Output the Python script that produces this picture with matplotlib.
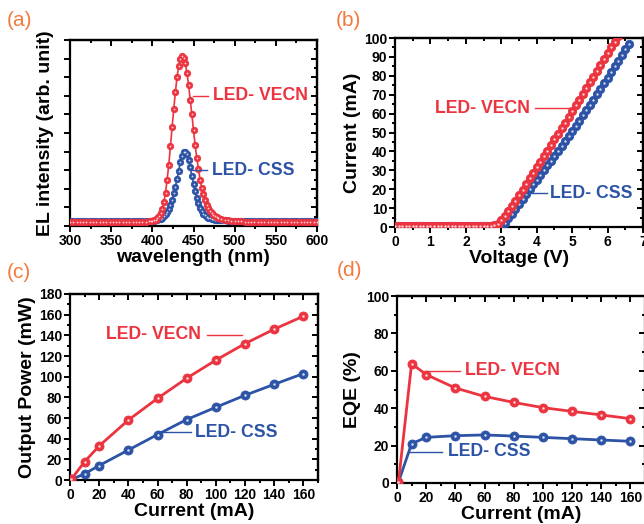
import matplotlib
matplotlib.use('Agg')
import matplotlib.pyplot as plt
from matplotlib.ticker import MultipleLocator, NullFormatter

plt.rcParams['font.family'] = ['Liberation Sans', 'DejaVu Sans']
plt.rcParams['font.weight'] = 'bold'

RED = '#ec3440'
BLUE = '#2c53a6'
ORANGE = '#f37a3c'

# ---------------- (a) EL spectra ----------------
wl = [300, 304, 308, 312, 316, 320, 324, 328, 332, 336, 340, 344, 348, 352, 356,
      360, 364, 368, 372, 376, 380, 384, 388, 392, 396,
      398, 400, 402, 404, 406, 408, 410, 412, 414, 416, 418, 420, 422, 424, 426,
      428, 430, 432, 434, 436, 438, 440, 442, 444, 446, 448, 450, 452, 454, 456,
      458, 460, 462, 464, 466, 468, 470, 472, 474, 476, 478, 480,
      484, 488, 492, 496, 500, 504, 508, 512, 516, 520, 524, 528, 532, 536, 540,
      544, 548, 552, 556, 560, 564, 568, 572, 576, 580, 584, 588, 592, 596, 600]
el_vecn = [0.022, 0.022, 0.021, 0.022, 0.022, 0.022, 0.021, 0.022, 0.022, 0.022,
           0.022, 0.021, 0.022, 0.022, 0.022, 0.022, 0.022, 0.021, 0.022, 0.022,
           0.022, 0.023, 0.023, 0.024, 0.025,
           0.026, 0.027, 0.030, 0.034, 0.041, 0.052, 0.068, 0.092, 0.128, 0.180,
           0.250, 0.330, 0.430, 0.530, 0.630, 0.720, 0.800, 0.860, 0.900, 0.915,
           0.905, 0.875, 0.825, 0.760, 0.680, 0.600, 0.515, 0.435, 0.365, 0.305,
           0.250, 0.205, 0.170, 0.140, 0.115, 0.096, 0.081, 0.069, 0.060, 0.053,
           0.048, 0.044,
           0.038, 0.034, 0.031, 0.029, 0.027, 0.026, 0.025, 0.024, 0.024, 0.023,
           0.023, 0.023, 0.022, 0.022, 0.022, 0.022, 0.022, 0.022, 0.022, 0.022,
           0.022, 0.022, 0.022, 0.022, 0.022, 0.022, 0.022, 0.022, 0.022, 0.022]
el_css = [0.027, 0.027, 0.028, 0.027, 0.027, 0.027, 0.028, 0.027, 0.027, 0.027,
          0.027, 0.028, 0.027, 0.027, 0.027, 0.027, 0.027, 0.028, 0.027, 0.027,
          0.027, 0.027, 0.028, 0.028, 0.028,
          0.028, 0.028, 0.029, 0.030, 0.032, 0.035, 0.039, 0.045, 0.053, 0.063,
          0.076, 0.093, 0.115, 0.142, 0.175, 0.212, 0.253, 0.297, 0.342, 0.378,
          0.398, 0.400, 0.385, 0.355, 0.315, 0.270, 0.226, 0.186, 0.151, 0.122,
          0.099, 0.081, 0.067, 0.057, 0.050, 0.045, 0.041, 0.038, 0.036, 0.034,
          0.033, 0.032,
          0.031, 0.030, 0.029, 0.029, 0.028, 0.028, 0.028, 0.028, 0.027, 0.027,
          0.027, 0.027, 0.027, 0.027, 0.027, 0.027, 0.027, 0.027, 0.027, 0.027,
          0.027, 0.027, 0.027, 0.027, 0.027, 0.027, 0.027, 0.027, 0.027, 0.027]

# ---------------- (b) I-V ----------------
volt_vecn = [0.0, 0.1, 0.2, 0.3, 0.4, 0.5, 0.6, 0.7, 0.8, 0.9, 1.0, 1.1, 1.2, 1.3,
             1.4, 1.5, 1.6, 1.7, 1.8, 1.9, 2.0, 2.1, 2.2, 2.3, 2.4, 2.5, 2.6, 2.7,
             2.8, 2.9, 3.0, 3.1, 3.2, 3.3, 3.4, 3.5, 3.6, 3.7, 3.8, 3.9, 4.0, 4.1,
             4.2, 4.3, 4.4, 4.5, 4.6, 4.7, 4.8, 4.9, 5.0, 5.1, 5.2, 5.3, 5.4, 5.5,
             5.6, 5.7, 5.8, 5.9, 6.0, 6.1, 6.2, 6.3]
cur_vecn = [0.3, 0.3, 0.3, 0.3, 0.3, 0.3, 0.3, 0.3, 0.3, 0.3, 0.3, 0.3, 0.3, 0.3,
            0.3, 0.3, 0.3, 0.3, 0.3, 0.3, 0.3, 0.3, 0.3, 0.3, 0.3, 0.3, 0.4, 0.5,
            0.8, 1.8, 3.8, 6.0, 8.5, 11.2, 14.0, 16.9, 19.8, 22.7, 25.7, 28.6, 31.6,
            34.5, 37.5, 40.4, 43.4, 46.3, 49.3, 52.2, 55.2, 58.2, 61.2, 64.3, 67.3,
            70.4, 73.4, 76.5, 79.6, 82.6, 85.7, 88.8, 91.9, 95.0, 98.1, 101.2]
volt_css = [0.0, 0.1, 0.2, 0.3, 0.4, 0.5, 0.6, 0.7, 0.8, 0.9, 1.0, 1.1, 1.2, 1.3,
            1.4, 1.5, 1.6, 1.7, 1.8, 1.9, 2.0, 2.1, 2.2, 2.3, 2.4, 2.5, 2.6, 2.7,
            2.8, 2.9, 3.0, 3.1, 3.2, 3.3, 3.4, 3.5, 3.6, 3.7, 3.8, 3.9, 4.0, 4.1,
            4.2, 4.3, 4.4, 4.5, 4.6, 4.7, 4.8, 4.9, 5.0, 5.1, 5.2, 5.3, 5.4, 5.5,
            5.6, 5.7, 5.8, 5.9, 6.0, 6.1, 6.2, 6.3, 6.4, 6.5, 6.6]
cur_css = [0.3, 0.3, 0.3, 0.3, 0.3, 0.3, 0.3, 0.3, 0.3, 0.3, 0.3, 0.3, 0.3, 0.3,
           0.3, 0.3, 0.3, 0.3, 0.3, 0.3, 0.3, 0.3, 0.3, 0.3, 0.3, 0.3, 0.3, 0.3,
           0.3, 0.4, 0.8, 2.2, 4.6, 7.0, 9.5, 12.0, 14.7, 17.3, 19.9, 22.5, 25.0,
           27.6, 30.1, 32.6, 35.1, 37.6, 40.1, 42.6, 45.3, 48.0, 50.7, 53.4, 56.2,
           59.0, 61.8, 64.6, 67.4, 70.3, 73.2, 76.1, 79.0, 82.0, 85.0, 88.0, 91.0,
           94.0, 97.0]

# ---------------- (c) output power / (d) EQE ----------------
drive_current = [1, 10, 20, 40, 60, 80, 100, 120, 140, 160]
power_vecn = [1, 17.7, 33, 58, 79, 98.5, 116, 132, 146, 158.5]
power_css = [0.5, 6, 14, 29, 44, 58.5, 70.4, 82, 92.6, 103]
eqe_vecn = [0.5, 63.8, 58, 50.8, 46.3, 43.1, 40.3, 38.3, 36.4, 34.4]
eqe_css = [0.5, 21, 24.4, 25.3, 25.7, 25.1, 24.4, 23.7, 23.0, 22.3]

fig = plt.figure(figsize=(6.44, 5.24), dpi=100)
W, H = 644.0, 524.0


def make_ax(l, r, t, b):
    return fig.add_axes([l / W, 1 - b / H, (r - l) / W, (b - t) / H])


def style(ax, xmaj, xmin, ymaj, ymin, ylabels=True):
    for s in ax.spines.values():
        s.set_linewidth(1.6)
    ax.xaxis.set_major_locator(MultipleLocator(xmaj))
    ax.xaxis.set_minor_locator(MultipleLocator(xmin))
    ax.yaxis.set_major_locator(MultipleLocator(ymaj))
    ax.yaxis.set_minor_locator(MultipleLocator(ymin))
    ax.tick_params(which='both', direction='out', top=False, right=False,
                   width=1.4, labelsize=10, pad=1.5)
    ax.tick_params(which='major', length=4)
    ax.tick_params(which='minor', length=2.5)
    if not ylabels:
        ax.yaxis.set_major_formatter(NullFormatter())
    sx = ax.secondary_xaxis('top')
    sx.xaxis.set_major_locator(MultipleLocator(xmaj))
    sx.xaxis.set_minor_locator(MultipleLocator(xmin))
    sx.tick_params(which='both', direction='in', labeltop=False, width=1.4)
    sx.tick_params(which='major', length=4)
    sx.tick_params(which='minor', length=2.5)
    sx.spines['top'].set_linewidth(1.6)
    sy = ax.secondary_yaxis('right')
    sy.yaxis.set_major_locator(MultipleLocator(ymaj))
    sy.yaxis.set_minor_locator(MultipleLocator(ymin))
    sy.tick_params(which='both', direction='in', labelright=False, width=1.4)
    sy.tick_params(which='major', length=4)
    sy.tick_params(which='minor', length=2.5)
    sy.spines['right'].set_linewidth(1.6)


def balls(ax, x, y, color, ms, lw, z):
    ax.plot(x, y, '-', color=color, lw=lw, marker='o', ms=ms, mfc=color,
            mec=color, mew=0.6, zorder=z)
    ax.plot(x, y, 'o', ms=ms * 0.28, mfc='white', mec='none', alpha=0.8,
            zorder=z + 0.1)


def label(ax, tx, ty, x1, x2, ly, text, color):
    ax.plot([x1, x2], [ly, ly], color=color, lw=1.0, zorder=5)
    ax.text(tx, ty, text, color=color, fontsize=12.7, fontweight='bold',
            va='center', ha='left', zorder=6)


LBL = 14

# (a)
axa = make_ax(70, 317, 40, 226)
balls(axa, wl, el_css, BLUE, 4.6, 1.2, 3)
balls(axa, wl, el_vecn, RED, 4.6, 1.2, 4)
axa.set_xlim(300, 600)
axa.set_ylim(0, 1)
style(axa, 50, 25, 0.1, 0.05, ylabels=False)
axa.tick_params(axis='y', which='minor', length=0)
axa.set_xlabel('wavelength (nm)', fontsize=LBL, fontweight='bold', labelpad=1)
axa.set_ylabel('EL intensity (arb. unit)', fontsize=LBL, fontweight='bold', labelpad=6)
label(axa, 473.7, 0.70, 449, 468, 0.70, 'LED- VECN', RED)
label(axa, 473, 0.30, 448, 467, 0.30, 'LED- CSS', BLUE)

# (b)
axb = make_ax(395, 643, 38, 227)
balls(axb, volt_css, cur_css, BLUE, 6.0, 1.0, 3)
balls(axb, volt_vecn, cur_vecn, RED, 6.0, 1.0, 4)
axb.set_xlim(0, 7)
axb.set_ylim(0, 100)
style(axb, 1, 0.5, 10, 5)
axb.set_xlabel('Voltage (V)', fontsize=LBL, fontweight='bold', labelpad=1)
axb.set_ylabel('Current (mA)', fontsize=LBL, fontweight='bold', labelpad=2)
label(axb, 1.13, 62.7, 3.95, 5.03, 62.7, 'LED- VECN', RED)
label(axb, 4.37, 17.8, 3.71, 4.28, 17.8, 'LED- CSS', BLUE)

# (c)
axc = make_ax(70, 318, 294, 480)
balls(axc, drive_current, power_css, BLUE, 6.5, 2.0, 3)
balls(axc, drive_current, power_vecn, RED, 6.5, 2.0, 4)
axc.set_xlim(0, 170)
axc.set_ylim(0, 180)
style(axc, 20, 10, 20, 10)
axc.set_xlabel('Current (mA)', fontsize=LBL, fontweight='bold', labelpad=1)
axc.set_ylabel('Output Power (mW)', fontsize=LBL, fontweight='bold', labelpad=2)
label(axc, 24.8, 140.5, 94, 117.7, 140.5, 'LED- VECN', RED)
label(axc, 85.7, 46, 62, 82.7, 46, 'LED- CSS', BLUE)

# (d)
axd = make_ax(397, 645, 296, 483)
balls(axd, drive_current, eqe_css, BLUE, 6.5, 2.0, 3)
balls(axd, drive_current, eqe_vecn, RED, 6.5, 2.0, 4)
axd.set_xlim(0, 170)
axd.set_ylim(0, 100)
style(axd, 20, 10, 20, 10)
axd.set_xlabel('Current (mA)', fontsize=LBL, fontweight='bold', labelpad=1)
axd.set_ylabel('EQE (%)', fontsize=LBL, fontweight='bold', labelpad=4)
label(axd, 46.7, 59.9, 20.5, 43.3, 59.9, 'LED- VECN', RED)
label(axd, 34.9, 16.6, 8.7, 30.8, 16.6, 'LED- CSS', BLUE)

# panel letters
for txt, px, py in [('(a)', 7, 20), ('(b)', 336, 20), ('(c)', 7, 272), ('(d)', 337, 271)]:
    fig.text(px / W, 1 - py / H, txt, color=ORANGE, fontsize=15,
             fontweight='normal', ha='left', va='center')

fig.savefig('out.png', dpi=100)
